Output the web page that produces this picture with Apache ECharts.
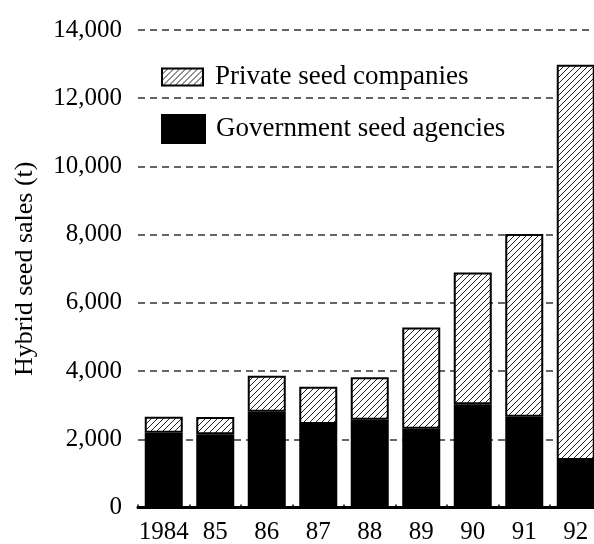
<!DOCTYPE html>
<html>
<head>
<meta charset="utf-8">
<script src="https://cdn.jsdelivr.net/npm/echarts@6/dist/echarts.min.js"></script>
<style>
html,body{margin:0;padding:0;background:#fff;}
#chart{width:594px;height:544px;}
</style>
</head>
<body>
<div id="chart"></div>
<script>
// Data
const years = ['1984', '85', '86', '87', '88', '89', '90', '91', '92'];
const government = [2190, 2150, 2810, 2450, 2570, 2310, 3030, 2660, 1390];
const privateCo = [470, 500, 1050, 1090, 1250, 2970, 3860, 5360, 11590];
const yTicks = [0, 2000, 4000, 6000, 8000, 10000, 12000, 14000];

const FONT = '"Liberation Serif", "Times New Roman", serif';

// hatch pattern
function makeHatch() {
  const s = 6;
  const c = document.createElement('canvas');
  c.width = s; c.height = s;
  const g = c.getContext('2d');
  g.fillStyle = '#fff';
  g.fillRect(0, 0, s, s);
  g.strokeStyle = '#222';
  g.lineWidth = 1;
  g.beginPath();
  g.moveTo(0, s); g.lineTo(s, 0);
  g.moveTo(-s, s); g.lineTo(0, 0);
  g.moveTo(s, 2 * s); g.lineTo(2 * s, s);
  g.stroke();
  return c;
}
const hatch = { image: makeHatch(), repeat: 'repeat' };

const chart = echarts.init(document.getElementById('chart'), null, { renderer: 'canvas' });
chart.setOption({
  animation: false,
  backgroundColor: '#fff',
  textStyle: { fontFamily: FONT, color: '#000' },
  grid: { left: 138, top: 30, right: -7.5, bottom: 36.5, containLabel: false, outerBoundsMode: 'none' },
  legend: [
    {
      data: [{ name: 'Private seed companies', icon: 'rect' }],
      left: 161, top: 62, padding: 0,
      itemWidth: 41, itemHeight: 17,
      textStyle: { fontFamily: FONT, fontSize: 27, color: '#000', lineHeight: 30, padding: [0, 0, 0, 7] },
      selectedMode: false
    },
    {
      data: [{ name: 'Government seed agencies', icon: 'rect' }],
      left: 161, top: 114, padding: 0,
      itemWidth: 43, itemHeight: 28,
      textStyle: { fontFamily: FONT, fontSize: 27, color: '#000', lineHeight: 30, padding: [0, 0, 0, 6] },
      selectedMode: false
    }
  ],
  xAxis: {
    type: 'category',
    data: years,
    axisLine: { lineStyle: { color: '#000', width: 3 } },
    axisTick: { show: true, inside: true, length: 3, lineStyle: { color: '#000', width: 1.5 } },
    axisLabel: { fontFamily: FONT, fontSize: 25, color: '#000', margin: 12, interval: 0 }
  },
  yAxis: {
    type: 'value',
    min: 0, max: 14000, interval: 2000,
    name: 'Hybrid seed sales (t)',
    nameLocation: 'middle',
    nameGap: 100,
    nameTextStyle: { fontFamily: FONT, fontSize: 26, color: '#000' },
    axisLine: { show: false },
    axisTick: { show: false },
    axisLabel: {
      fontFamily: FONT, fontSize: 25, color: '#000', margin: 16,
      formatter: v => yTicks.includes(v) ? v.toLocaleString('en-US') : ''
    },
    splitLine: { show: true, lineStyle: { color: '#333', width: 1.5, type: [7, 5] } }
  },
  series: [
    {
      name: 'Government seed agencies',
      type: 'bar',
      stack: 'total',
      data: government,
      barWidth: 38,
      itemStyle: { color: '#000', borderColor: '#000', borderWidth: 2 }
    },
    {
      name: 'Private seed companies',
      type: 'bar',
      stack: 'total',
      data: privateCo,
      barWidth: 38,
      itemStyle: { color: hatch, borderColor: '#000', borderWidth: 2 }
    }
  ]
});
</script>
</body>
</html>
